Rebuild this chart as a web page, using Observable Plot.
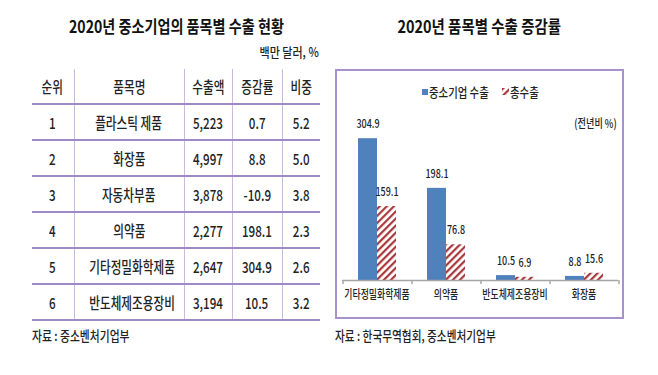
<!DOCTYPE html>
<html><head><meta charset="utf-8">
<script src="https://cdn.jsdelivr.net/npm/d3@7"></script>
<script src="https://cdn.jsdelivr.net/npm/@observablehq/plot@0.6"></script>
<style>
body{margin:0;background:#fff;}
#root{position:relative;width:658px;height:375px;overflow:hidden;font-family:"Noto Sans CJK KR",sans-serif;color:#222;font-weight:500;}
.abs{position:absolute;white-space:nowrap;}
.k{display:inline-block;white-space:nowrap;}
table{position:absolute;left:32px;top:69px;width:288px;border-collapse:collapse;table-layout:fixed;font-size:15.5px;}
td{text-align:center;padding:0;height:34px;border-bottom:2px solid #a08ac6;border-left:1.5px solid #c9bbe0;line-height:20px;}
td:first-child{border-left:none;}
tr:first-child td{border-top:2px solid #a08ac6;}
#box{position:absolute;left:335px;top:69px;width:289px;height:250px;box-sizing:border-box;border:2px solid #a792cc;}
</style></head>
<body>
<svg width="0" height="0" style="position:absolute">
<defs>
<pattern id="hatch" patternUnits="userSpaceOnUse" width="5" height="5" patternTransform="rotate(45)">
<rect width="5" height="5" fill="#fff"/><rect width="2.2" height="5" fill="#a63a3e"/>
</pattern>
</defs>
</svg>
<div id="root"></div>
<script>
// ---- table data ----
const headers = ["순위", "품목명", "수출액", "증감률", "비중"];
const ranks = [1, 2, 3, 4, 5, 6];
const items = ["플라스틱 제품", "화장품", "자동차부품", "의약품", "기타정밀화학제품", "반도체제조용장비"];
const amounts = [5223, 4997, 3878, 2277, 2647, 3194];
const changes = [0.7, 8.8, -10.9, 198.1, 304.9, 10.5];
const shares = [5.2, 5.0, 3.8, 2.3, 2.6, 3.2];

// ---- chart data ----
const categories = ["기타정밀화학제품", "의약품", "반도체제조용장비", "화장품"];
const seriesNames = ["중소기업 수출", "총수출"];
const smeExport = [304.9, 198.1, 10.5, 8.8];
const totalExport = [159.1, 76.8, 6.9, 15.6];

const leftTitle = "2020년 중소기업의 품목별 수출 현황";
const rightTitle = "2020년 품목별 수출 증감률";
const unitLeft = "백만 달러, %";
const unitRight = "(전년비 %)";
const sourceLeft = "자료 : 중소벤처기업부";
const sourceRight = "자료 : 한국무역협회, 중소벤처기업부";

const root = document.getElementById("root");
function addText(txt, {left, top, width, align = "left", size = 13, scale = 0.8, weight = 500, color = "#222", lh = 20}) {
  const d = document.createElement("div");
  d.className = "abs";
  Object.assign(d.style, {left: left + "px", top: top + "px", fontSize: size + "px", fontWeight: weight, color, lineHeight: lh + "px", textAlign: align});
  if (width != null) d.style.width = width + "px";
  const s = document.createElement("span");
  s.className = "k";
  s.textContent = txt;
  s.style.transform = `scaleX(${scale})`;
  s.style.transformOrigin = align === "center" ? "center" : align === "right" ? "right" : "left";
  d.appendChild(s);
  root.appendChild(d);
  return d;
}

// titles
addText(leftTitle, {left: 0, top: 14, width: 352, align: "center", size: 17, scale: 0.83, weight: "bold", color: "#111", lh: 24});
addText(rightTitle, {left: 335, top: 14, width: 289, align: "center", size: 17, scale: 0.85, weight: "bold", color: "#111", lh: 24});
addText(unitLeft, {left: 200, top: 42, width: 119, align: "right", size: 13, scale: 0.85});

// table
const fmtInt = d3.format(",");
const table = document.createElement("table");
const colW = [42, 110, 48, 50, 38];
const cg = document.createElement("colgroup");
colW.forEach(w => { const c = document.createElement("col"); c.style.width = w + "px"; cg.appendChild(c); });
table.appendChild(cg);
const rowsData = [headers].concat(ranks.map((r, i) => [String(r), items[i], fmtInt(amounts[i]), changes[i].toFixed(1), shares[i].toFixed(1)]));
rowsData.forEach(row => {
  const tr = document.createElement("tr");
  row.forEach(v => {
    const td = document.createElement("td");
    const s = document.createElement("span");
    s.className = "k";
    s.textContent = v;
    s.style.transform = "scaleX(0.75)";
    td.appendChild(s);
    tr.appendChild(td);
  });
  table.appendChild(tr);
});
root.appendChild(table);

addText(sourceLeft, {left: 32, top: 325, size: 13.5, scale: 0.8});

// right chart box
const box = document.createElement("div");
box.id = "box";
root.appendChild(box);

// legend
const sq = document.createElement("div");
sq.className = "abs";
Object.assign(sq.style, {left: "422px", top: "89px", width: "6px", height: "6px", background: "#4f81bd"});
root.appendChild(sq);
addText(seriesNames[0], {left: 429, top: 82, size: 13, scale: 0.8});
const sw = document.createElementNS("http://www.w3.org/2000/svg", "svg");
sw.setAttribute("width", "7"); sw.setAttribute("height", "7");
sw.style.position = "absolute"; sw.style.left = "502px"; sw.style.top = "88px";
sw.innerHTML = '<rect width="7" height="7" fill="url(#hatch)"/>';
root.appendChild(sw);
addText(seriesNames[1], {left: 510, top: 82, size: 13, scale: 0.8});
addText(unitRight, {left: 520, top: 113, width: 97, align: "right", size: 12, scale: 0.76});

// chart
const W = 289, H = 210, ML = 6, MR = 5, MT = 20, MB = 30, PO = 0.78;
const facetW = (W - ML - MR) / categories.length;
const step = facetW / (2 + 2 * PO);
const edge = PO * step + step / 2;
const smeRows = categories.map((c, i) => ({cat: c, series: seriesNames[0], value: smeExport[i]}));
const totRows = categories.map((c, i) => ({cat: c, series: seriesNames[1], value: totalExport[i]}));
const allRows = smeRows.concat(totRows);
const last = categories[categories.length - 1];

const chart = Plot.plot({
  width: W, height: H,
  marginLeft: ML, marginRight: MR, marginTop: MT, marginBottom: MB,
  style: {background: "transparent", fontFamily: "'Noto Sans CJK KR', sans-serif", color: "#222", overflow: "visible"},
  fx: {domain: categories, padding: 0, axis: null},
  x: {domain: seriesNames, paddingInner: 0, paddingOuter: PO, axis: null},
  y: {domain: [0, 344], axis: null},
  marks: [
    Plot.barY(smeRows, {fx: "cat", x: "series", y: "value", fill: "#4f81bd"}),
    Plot.barY(totRows, {fx: "cat", x: "series", y: "value", fill: "url(#hatch)"}),
    Plot.ruleY([0], {stroke: "#a6a6a6", strokeWidth: 1.5}),
    Plot.ruleX(smeRows, {fx: "cat", x: "series", y1: 0, y2: 0, insetBottom: -4, dx: -edge, stroke: "#a6a6a6", strokeWidth: 1.5}),
    Plot.ruleX(totRows.filter(d => d.cat === last), {fx: "cat", x: "series", y1: 0, y2: 0, insetBottom: -4, dx: edge, stroke: "#a6a6a6", strokeWidth: 1.5}),
    Plot.text(allRows, {fx: "cat", x: "series", y: "value", text: d => d.value.toFixed(1), dy: -14, fontSize: 11.5, fontWeight: 500, fill: "#222"}),
    Plot.text(categories, {fx: d => d, text: d => d, frameAnchor: "bottom", dy: 18, fontSize: 12, fontWeight: 500, fill: "#222"})
  ]
});
const holder = document.createElement("div");
holder.className = "abs";
Object.assign(holder.style, {left: "335px", top: "100px"});
holder.appendChild(chart);
root.appendChild(holder);
chart.querySelectorAll("text").forEach(t => {
  const L = t.getComputedTextLength();
  const r = /[가-힣]/.test(t.textContent) ? 0.74 : 0.78;
  if (L > 0) { t.setAttribute("textLength", (L * r).toFixed(2)); t.setAttribute("lengthAdjust", "spacingAndGlyphs"); }
});

addText(sourceRight, {left: 335, top: 325, size: 13.5, scale: 0.79});
</script>
</body></html>
